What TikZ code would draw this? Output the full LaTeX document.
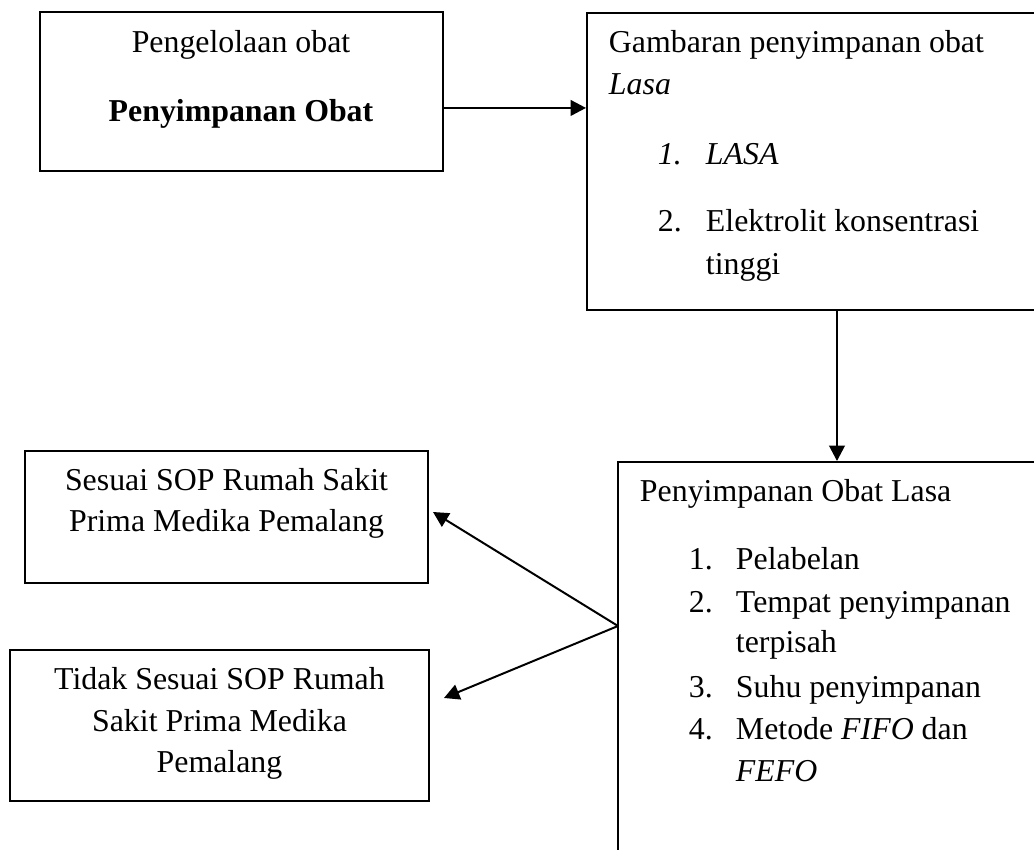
\documentclass[tikz,border=0pt]{standalone}
\usepackage{fontspec}
\setmainfont{Liberation Serif}
\usetikzlibrary{arrows.meta,fit}

\begin{document}
\begin{tikzpicture}[x=0.3768pt,y=-0.3768pt,->,>={Triangle[length=5.8pt,width=5.9pt]},line width=0.75pt,boxnode/.style={draw,rectangle,inner sep=0pt},textnode/.style={inner sep=0pt,font=\fontsize{12pt}{15.6pt}\selectfont}]

	\useasboundingbox (0,0) rectangle (1034,850);
	\clip (0,0) rectangle (1034,850);

	\node [boxnode, fit={(40,12) (443,171)}] (kelola) {};
	\node [boxnode, fit={(587,13) (1100,310)}] (gambaran) {};
	\node [boxnode, fit={(618,462) (1100,900)}] (simpan) {};
	\node [boxnode, fit={(25,451) (428,583)}] (sesuai) {};
	\node [boxnode, fit={(10,650) (429,801)}] (tidak) {};

	\node [textnode, anchor=base] (kelola1) at (241,53) {Pengelolaan obat};
	\node [textnode, anchor=base] (kelola2) at (241,122) {\textbf{Penyimpanan Obat}};

	\node [textnode, anchor=base west] (gambaran1) at (608,53) {Gambaran penyimpanan obat};
	\node [textnode, anchor=base west] (gambaran2) at (608,95) {\textit{Lasa}};
	\node [textnode, anchor=base west] (gnum1) at (657,165) {\textit{1.}};
	\node [textnode, anchor=base west] (gitem1) at (705,165) {\textit{LASA}};
	\node [textnode, anchor=base west] (gnum2) at (657,232) {2.};
	\node [textnode, anchor=base west] (gitem2) at (705,232) {Elektrolit konsentrasi};
	\node [textnode, anchor=base west] (gitem2b) at (705,275) {tinggi};

	\node [textnode, anchor=base west] (simpan1) at (639,502) {Penyimpanan Obat Lasa};
	\node [textnode, anchor=base west] (snum1) at (688,570) {1.};
	\node [textnode, anchor=base west] (sitem1) at (735,570) {Pelabelan};
	\node [textnode, anchor=base west] (snum2) at (688,613) {2.};
	\node [textnode, anchor=base west] (sitem2) at (735,613) {Tempat penyimpanan};
	\node [textnode, anchor=base west] (sitem2b) at (735,653) {terpisah};
	\node [textnode, anchor=base west] (snum3) at (688,698) {3.};
	\node [textnode, anchor=base west] (sitem3) at (735,698) {Suhu penyimpanan};
	\node [textnode, anchor=base west] (snum4) at (688,740) {4.};
	\node [textnode, anchor=base west] (sitem4) at (735,740) {Metode \textit{FIFO} dan};
	\node [textnode, anchor=base west] (sitem4b) at (735,782) {\textit{FEFO}};

	\node [textnode, anchor=base] (sesuai1) at (226.5,491) {Sesuai SOP Rumah Sakit};
	\node [textnode, anchor=base] (sesuai2) at (226.5,532) {Prima Medika Pemalang};

	\node [textnode, anchor=base] (tidak1) at (219.5,690) {Tidak Sesuai SOP Rumah};
	\node [textnode, anchor=base] (tidak2) at (219.5,732) {Sakit Prima Medika};
	\node [textnode, anchor=base] (tidak3) at (219.5,773) {Pemalang};

	\coordinate (kout) at ([yshift=-6.2pt]kelola.east);
	\coordinate (gdown) at (837,0);
	\coordinate (fork) at (618,626);

	\draw (kout) to (kout -| gambaran.west);
	\draw (gdown |- gambaran.south) to (gdown |- simpan.north);
	\draw (fork) to ([shift={(4,-5)}]sesuai.east);
	\draw (fork) to ([shift={(14,-27.5)}]tidak.east);
\end{tikzpicture}
\end{document}
